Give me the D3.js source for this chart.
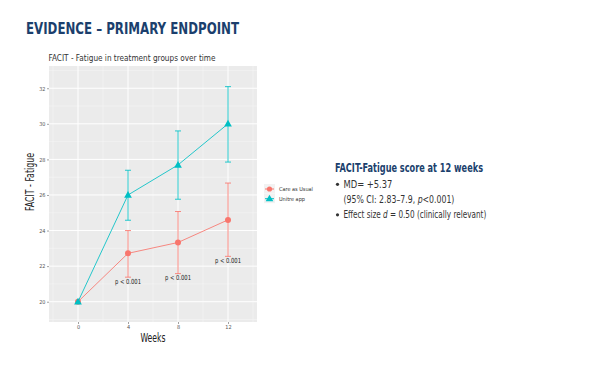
<!DOCTYPE html>
<html>
<head>
<meta charset="utf-8">
<script src="https://cdn.jsdelivr.net/npm/d3@7"></script>
<style>
  body { margin: 0; background: #fff; }
  svg { display: block; }
  text { font-family: "Liberation Sans Narrow", "DejaVu Sans Condensed", "Liberation Sans", sans-serif; }
</style>
</head>
<body>
<svg width="600" height="365"></svg>
<script>
// data
const weeks = [0, 4, 8, 12]
const groups = ['Care as Usual', 'Unitre app']
const careMean = [20, 22.72, 23.33, 24.6]
const careLow = [20, 21.38, 21.58, 22.55]
const careHigh = [20, 24.0, 25.07, 26.67]
const appMean = [20, 26.0, 27.69, 30.0]
const appLow = [20, 24.58, 25.76, 27.85]
const appHigh = [20, 27.39, 29.6, 32.09]
const pWeeks = [4, 8, 12]
const pY = [21.16, 21.35, 22.3]
const pLabels = ['p < 0.001', 'p < 0.001', 'p < 0.001']
const yTicks = [20, 22, 24, 26, 28, 30, 32]

const colors = ['#F8766D', '#00BFC4']
const series = [
  { name: groups[0], mean: careMean, low: careLow, high: careHigh, color: colors[0], shape: 'circle' },
  { name: groups[1], mean: appMean, low: appLow, high: appHigh, color: colors[1], shape: 'triangle' }
]

const svg = d3.select('svg')

// slide title
svg.append('text')
  .attr('x', 26).attr('y', 34.3)
  .attr('font-size', 16).attr('font-weight', 'bold')
  .attr('fill', '#1b3f6d')
  .attr('textLength', 213).attr('lengthAdjust', 'spacingAndGlyphs')
  .text('EVIDENCE – PRIMARY ENDPOINT')

svg.append('text')
  .attr('x', 48.5).attr('y', 61)
  .attr('font-size', 9).attr('fill', '#333')
  .attr('textLength', 167).attr('lengthAdjust', 'spacingAndGlyphs')
  .text('FACIT - Fatigue in treatment groups over time')

// panel
const panel = { left: 49, right: 257, top: 66, bottom: 322 }
const x = d3.scaleLinear().domain([-2.32, 14.32]).range([panel.left, panel.right])
const y = d3.scaleLinear().domain([18.86, 33.25]).range([panel.bottom, panel.top])

svg.append('rect')
  .attr('x', panel.left).attr('y', panel.top)
  .attr('width', panel.right - panel.left).attr('height', panel.bottom - panel.top)
  .attr('fill', '#ebebeb')

const grid = svg.append('g')
// minor grid
const xMinor = [-2, 2, 6, 10, 14]
const yMinor = [19, 21, 23, 25, 27, 29, 31, 33]
grid.selectAll('.xminor').data(xMinor).enter().append('line')
  .attr('x1', (d) => x(d)).attr('x2', (d) => x(d))
  .attr('y1', panel.top).attr('y2', panel.bottom)
  .attr('stroke', '#f6f6f6').attr('stroke-width', 0.5)
grid.selectAll('.yminor').data(yMinor).enter().append('line')
  .attr('x1', panel.left).attr('x2', panel.right)
  .attr('y1', (d) => y(d)).attr('y2', (d) => y(d))
  .attr('stroke', '#f6f6f6').attr('stroke-width', 0.5)
// major grid
grid.selectAll('.xmajor').data(weeks).enter().append('line')
  .attr('x1', (d) => x(d)).attr('x2', (d) => x(d))
  .attr('y1', panel.top).attr('y2', panel.bottom)
  .attr('stroke', '#fff').attr('stroke-width', 1)
grid.selectAll('.ymajor').data(yTicks).enter().append('line')
  .attr('x1', panel.left).attr('x2', panel.right)
  .attr('y1', (d) => y(d)).attr('y2', (d) => y(d))
  .attr('stroke', '#fff').attr('stroke-width', 1)

// axes
const yAxis = svg.append('g')
  .attr('transform', `translate(${panel.left},0)`)
  .call(d3.axisLeft(y).tickValues(yTicks).tickSize(2).tickPadding(1.5))
const xAxis = svg.append('g')
  .attr('transform', `translate(0,${panel.bottom})`)
  .call(d3.axisBottom(x).tickValues(weeks).tickSize(2).tickPadding(1.5))
;[xAxis, yAxis].forEach((a) => {
  a.select('.domain').remove()
  a.selectAll('line').attr('stroke', '#444').attr('stroke-width', 0.5)
  a.selectAll('text').attr('fill', '#555').attr('font-size', 5.5)
})

svg.append('text')
  .attr('x', x(6)).attr('y', 341.5)
  .attr('text-anchor', 'middle')
  .attr('font-size', 12).attr('fill', '#222')
  .attr('textLength', 25).attr('lengthAdjust', 'spacingAndGlyphs')
  .text('Weeks')
svg.append('text')
  .attr('transform', `translate(34,182) rotate(-90)`)
  .attr('text-anchor', 'middle')
  .attr('font-size', 11.5).attr('fill', '#222')
  .attr('textLength', 58).attr('lengthAdjust', 'spacingAndGlyphs')
  .text('FACIT - Fatigue')

// lines, error bars, points
const line = d3.line().x((d, i) => x(weeks[i])).y((d) => y(d))
const tri = d3.symbol().type(d3.symbolTriangle).size(26)

series.forEach((s) => {
  const g = svg.append('g')
  g.append('path')
    .attr('d', line(s.mean))
    .attr('fill', 'none').attr('stroke', s.color)
    .attr('stroke-opacity', 0.85).attr('stroke-width', 1)
  const eb = g.selectAll('.eb').data(weeks.slice(1)).enter().append('g')
  eb.append('line')
    .attr('x1', (d) => x(d)).attr('x2', (d) => x(d))
    .attr('y1', (d, i) => y(s.low[i + 1])).attr('y2', (d, i) => y(s.high[i + 1]))
    .attr('stroke', s.color).attr('stroke-opacity', 0.85).attr('stroke-width', 1)
  ;['low', 'high'].forEach((k) => {
    eb.append('line')
      .attr('x1', (d) => x(d) - 3).attr('x2', (d) => x(d) + 3)
      .attr('y1', (d, i) => y(s[k][i + 1])).attr('y2', (d, i) => y(s[k][i + 1]))
      .attr('stroke', s.color).attr('stroke-opacity', 0.85).attr('stroke-width', 1)
  })
  const pts = g.selectAll('.pt').data(s.mean).enter()
  if (s.shape === 'circle') {
    pts.append('circle')
      .attr('cx', (d, i) => x(weeks[i])).attr('cy', (d) => y(d))
      .attr('r', 3).attr('fill', s.color)
  } else {
    pts.append('path')
      .attr('d', tri)
      .attr('transform', (d, i) => `translate(${x(weeks[i])},${y(d) + 0.5})`)
      .attr('fill', s.color)
  }
})

// p-value labels
svg.selectAll('.plab').data(pLabels).enter().append('text')
  .attr('x', (d, i) => x(pWeeks[i])).attr('y', (d, i) => y(pY[i]))
  .attr('dy', '0.35em')
  .attr('text-anchor', 'middle')
  .attr('font-size', 7).attr('fill', '#222')
  .attr('textLength', 26).attr('lengthAdjust', 'spacingAndGlyphs')
  .text((d) => d)

// legend
const legend = svg.append('g').attr('transform', 'translate(264,184)')
const li = legend.selectAll('.li').data(series).enter().append('g')
  .attr('transform', (d, i) => `translate(0,${i * 9.7})`)
li.append('rect')
  .attr('width', 11).attr('height', 9.5).attr('fill', '#f2f2f2')
li.append('line')
  .attr('x1', 1).attr('x2', 10).attr('y1', 5).attr('y2', 5)
  .attr('stroke', (d) => d.color).attr('stroke-width', 1)
li.each(function (d) {
  const gg = d3.select(this)
  if (d.shape === 'circle') {
    gg.append('circle').attr('cx', 5.5).attr('cy', 5).attr('r', 2.6).attr('fill', d.color)
  } else {
    gg.append('path').attr('d', tri).attr('transform', 'translate(5.5,5.4)').attr('fill', d.color)
  }
})
li.append('text')
  .attr('x', 15).attr('y', 5).attr('dy', '0.35em')
  .attr('font-size', 5.5).attr('fill', '#333')
  .text((d) => d.name)

// right-hand summary text
const info = svg.append('g')
info.append('text')
  .attr('x', 335).attr('y', 172)
  .attr('font-size', 11.5).attr('font-weight', 'bold').attr('fill', '#1b3f6d')
  .attr('textLength', 148).attr('lengthAdjust', 'spacingAndGlyphs')
  .text('FACIT-Fatigue score at 12 weeks')

const bulletY = [187.5, 218]
bulletY.forEach((by) => {
  info.append('circle').attr('cx', 337.5).attr('cy', by - 3.2).attr('r', 1.6).attr('fill', '#333')
})

// each line squeezed horizontally to the reference width (condensed face)
function infoLine(yPos, width, parts) {
  const g = info.append('g')
  const t = g.append('text').attr('x', 0).attr('y', 0)
    .attr('font-size', 10).attr('fill', '#333')
  parts.forEach((p) => {
    const sp = t.append('tspan').text(p[0])
    if (p[1]) sp.attr('font-style', 'italic')
  })
  const w = t.node().getComputedTextLength()
  g.attr('transform', `translate(343.5,${yPos}) scale(${width / w},1)`)
}
infoLine(187.5, 49, [['MD= +5.37']])
infoLine(202.5, 111, [['(95% CI: 2.83–7.9, '], ['p', true], ['<0.001)']])
infoLine(218, 143, [['Effect size '], ['d', true], [' = 0.50 (clinically relevant)']])
</script>
</body>
</html>
